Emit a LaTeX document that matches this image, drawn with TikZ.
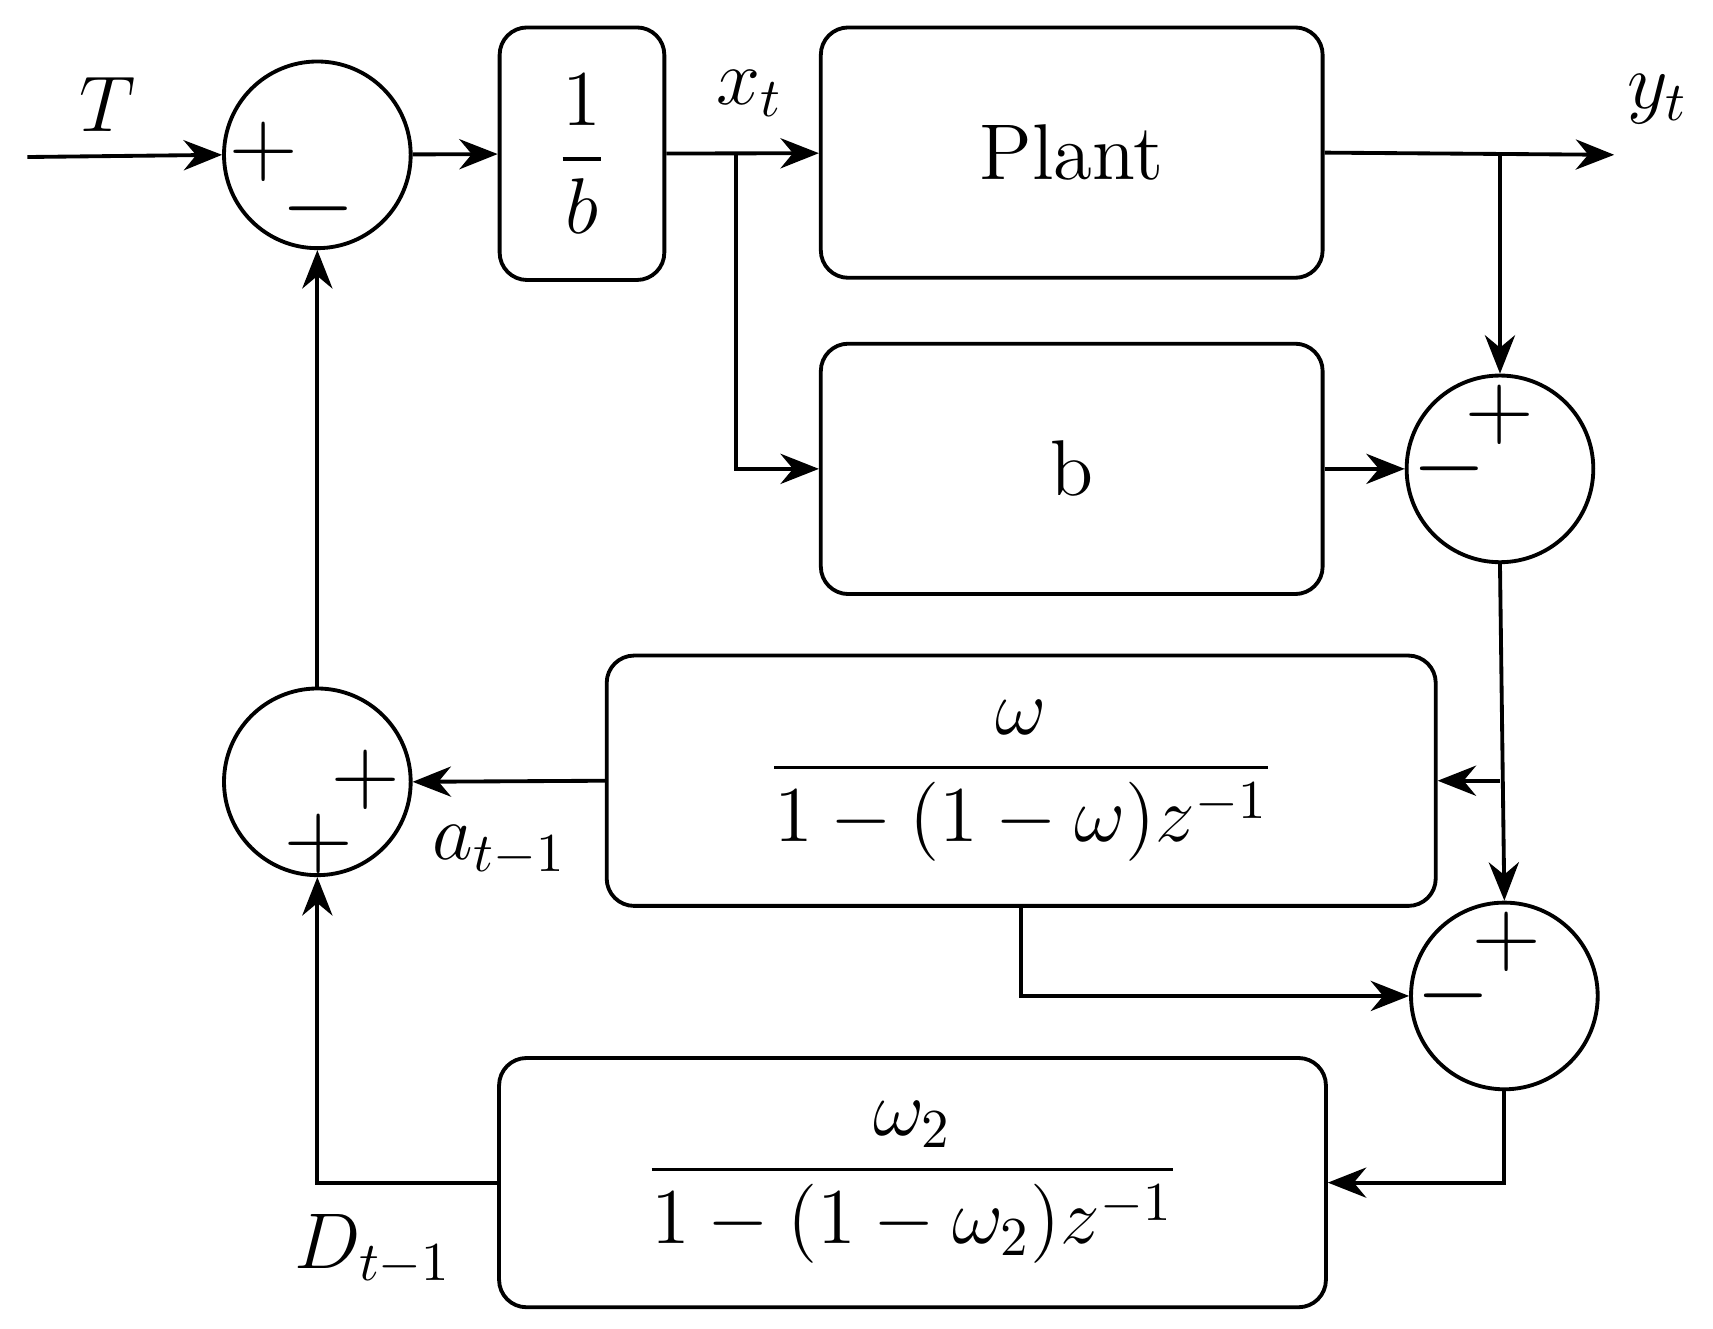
\documentclass[tikz,border=0pt]{standalone}
\usepackage{amsmath}
\usetikzlibrary{arrows.meta,calc}
\begin{document}
\begin{tikzpicture}[x=0.2pt,y=0.2pt,yscale=-1,line width=0.7pt,
  >={Stealth[length=7pt,width=5.5pt]},
  sumnode/.style={draw,circle,minimum size=34pt,inner sep=0pt},
  blk/.style={draw,rounded corners=5pt,inner sep=0pt,font=\Large},
  sgn/.style={inner sep=0pt,font=\LARGE},
  lbl/.style={inner sep=0pt,font=\Large}]
\useasboundingbox (0,0) rectangle (1560,1210);

% summing junctions
\node[sumnode] (s1) at (289,141) {};
\node[sumnode] (s2) at (1366,427) {};
\node[sumnode] (s3) at (1370,907) {};
\node[sumnode] (s4) at (289,712) {};
\node[sgn] at (240,138) {$+$};
\node[sgn] at (290,190) {$-$};
\node[sgn] at (1366,378) {$+$};
\node[sgn] at (1320,427) {$-$};
\node[sgn] at (1372,858) {$+$};
\node[sgn] at (1324,907) {$-$};
\node[sgn] at (333,710) {$+$};
\node[sgn] at (290,768) {$+$};

% blocks
\node[blk,minimum width=30pt,minimum height=46pt] (inv) at (530,140) {$\dfrac{1}{b}$};
\node[blk,minimum width=91.4pt,minimum height=45.6pt] (plant) at (976,139) {Plant};
\node[blk,minimum width=91.4pt,minimum height=45.6pt] (bb) at (976,427) {b};
\node[blk,minimum width=151pt,minimum height=45.6pt] (ew) at (930,711) {$\dfrac{\omega}{1-(1-\omega)z^{-1}}$};
\node[blk,minimum width=150.6pt,minimum height=45.4pt] (ew2) at (831,1077) {$\dfrac{\omega_2}{1-(1-\omega_2)z^{-1}}$};

% points and labels
\coordinate (in) at (25,143);
\coordinate (xb) at (670,141);
\coordinate (yb) at (1366,141);
\coordinate (out) at (1470,141);
\coordinate (eb) at (1366,711);
\node[lbl] at (98,95) {$T$};
\node[lbl] at (683,85) {$x_t$};
\node[lbl] at (1510,90) {$y_t$};
\node[lbl] at (455,775) {$a_{t-1}$};
\node[lbl] at (340,1138) {$D_{t-1}$};

% connectors
\draw[->] (in) -- (s1.west);
\draw[->] (s1) -- (inv);
\draw[->] (inv) -- (plant);
\draw[->] (xb) |- (bb.west);
\draw[->] (plant.east) -- (out);
\draw[->] (yb) -- (s2.north);
\draw[->] (bb) -- (s2);
\draw[->] (s2.south) -- (s3.north);
\draw[->] (eb) -- (ew.east);
\draw[->] (ew.south) |- (s3.west);
\draw[->] (s3.south) |- (ew2.east);
\draw[->] (ew2.west) -| (s4.south);
\draw[->] (ew.west) -- (s4.east);
\draw[->] (s4.north) -- (s1.south);
\end{tikzpicture}
\end{document}
